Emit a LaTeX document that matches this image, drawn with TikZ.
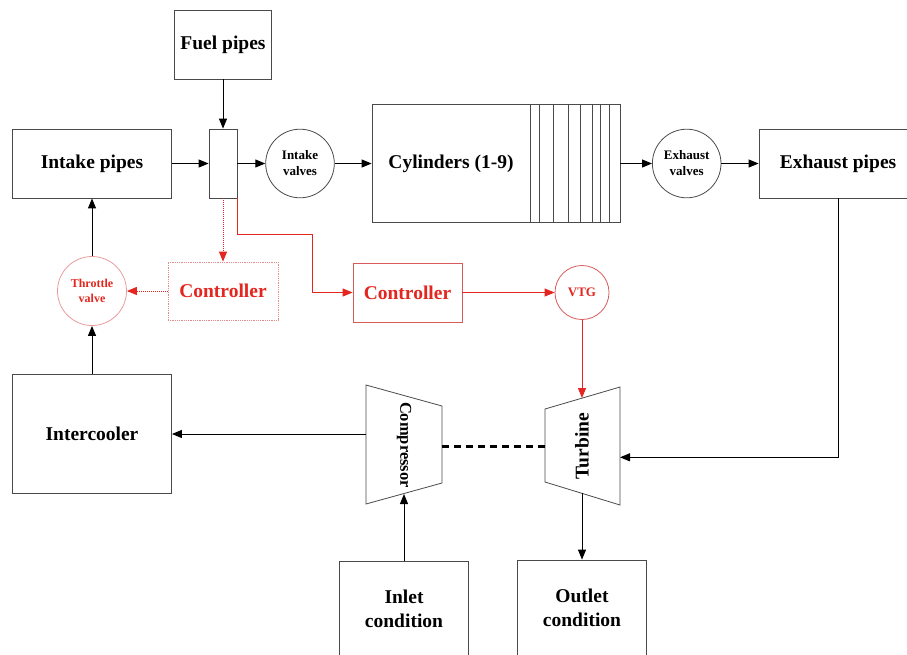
\documentclass[tikz,border=0pt]{standalone}
\usepackage{fontspec}
\setmainfont{Liberation Serif}
\usepackage{tikz}
\usetikzlibrary{arrows.meta,positioning,calc}
\usepackage{xcolor}
\definecolor{EngineRed}{HTML}{E3261F}
\definecolor{EngineRedEdge}{HTML}{D85A5A}
\definecolor{EngineGrey}{HTML}{4A4A4A}

\begin{document}
\begin{tikzpicture}[x=1pt,y=-1pt,
  blk/.style={draw=EngineGrey, line width=0.8pt, inner sep=0pt, align=center,
    font=\fontsize{19.5}{24}\selectfont\bfseries},
  valve/.style={draw=EngineGrey, line width=0.8pt, circle, inner sep=0pt, align=center,
    minimum size=68.6pt, font=\fontsize{13}{16}\selectfont\bfseries},
  flow/.style={draw=black, line width=1pt, -{Triangle[length=10pt,width=8pt]}},
  ctrl/.style={draw=EngineRed, line width=1pt, -{Triangle[length=10pt,width=8pt]}},
  ctrldot/.style={ctrl, densely dotted},
  turbo/.style={draw=EngineGrey, line width=0.8pt}]
  \useasboundingbox (0,0) rectangle (907,654);
  \node[blk, minimum width=97pt, minimum height=69pt] (fuel) at (223,44.5) {Fuel pipes};
  \node[blk, minimum width=159pt, minimum height=69pt] (intake) at (92,163.5) {Intake pipes};
  \node[blk, minimum width=28pt, minimum height=69pt] (mix) at (223,163.5) {};
  \node[valve] (inval) at (300,163.5) {Intake\\valves};
  \node[blk, minimum width=158pt, minimum height=118.5pt] (cyl) at (451,163.5) {Cylinders (1-9)};
  \node[blk, minimum width=90pt, minimum height=118.5pt] (cylstrip) at (575,163.5) {};
  \foreach \xs in {10,24,39,51,63,71,80}
    \draw[EngineGrey, line width=0.8pt] ($(cylstrip.north west)+(\xs,0)$) -- ($(cylstrip.south west)+(\xs,0)$);
  \node[valve] (exval) at (686.7,163.5) {Exhaust\\valves};
  \node[blk, minimum width=158pt, minimum height=69pt] (expipe) at (838,163.5) {Exhaust pipes};

  \node[blk, draw=EngineRedEdge!70, densely dotted, text=EngineRed, minimum width=110pt, minimum height=58pt] (ctrlA) at (223,291) {Controller};
  \node[blk, draw=EngineRedEdge, text=EngineRed, minimum width=109pt, minimum height=59pt] (ctrlB) at (407.5,292.5) {Controller};
  \node[valve, draw=EngineRedEdge!60, text=EngineRed, minimum size=69pt, font=\fontsize{12}{15}\selectfont\bfseries] (throttle) at (92,291) {Throttle\\valve};
  \node[valve, draw=EngineRedEdge, text=EngineRed, minimum size=54pt] (vtg) at (582,292.5) {VTG};
  \node[blk, minimum width=159pt, minimum height=119pt] (cooler) at (92,433.5) {Intercooler};

  \draw[turbo] (366,385) -- (442,406) -- (442,483) -- (366,504) -- cycle;
  \node[font=\fontsize{16.5}{20}\selectfont\bfseries, rotate=-90] (comp) at (404,445) {Compressor};
  \coordinate (compL) at (366,434);
  \coordinate (compR) at (442,446.7);
  \coordinate (compB) at (404,494);
  \draw[turbo] (545,409) -- (620,387) -- (620,505) -- (545,482) -- cycle;
  \node[font=\fontsize{19.5}{24}\selectfont\bfseries, rotate=90] (turb) at (582,446) {Turbine};
  \coordinate (turbL) at (545,446.7);
  \coordinate (turbR) at (620,457.3);
  \coordinate (turbT) at (582,398);
  \coordinate (turbB) at (582,493.3);

  \node[blk, minimum width=129pt, minimum height=96pt] (inlet) at (404,609) {Inlet\\condition};
  \node[blk, minimum width=129pt, minimum height=96pt] (outlet) at (582,608) {Outlet\\condition};

  \draw[flow] (fuel) -- (mix);
  \draw[flow] (intake) -- (mix);
  \draw[flow] (mix) -- (inval);
  \draw[flow] (inval) -- (cyl);
  \draw[flow] (cylstrip) -- (exval);
  \draw[flow] (exval) -- (expipe);
  \draw[flow] (throttle) -- (intake);
  \draw[flow] (cooler) -- (throttle);
  \draw[flow] (compL) -- (compL -| cooler.east);
  \draw[flow] (expipe) |- (turbR);
  \draw[flow] (inlet) -- (compB);
  \draw[flow] (turbB) -- (outlet);
  \draw[line width=3pt, dash pattern=on 7pt off 5pt] (compR) -- (turbL);
  \draw[ctrldot] (mix) -- (ctrlA);
  \draw[ctrldot] (ctrlA) -- (throttle);
  \draw[ctrl] (mix.south east) -- ++(0,36) -- ++(75,0) |- (ctrlB);
  \draw[ctrl] (ctrlB) -- (vtg);
  \draw[ctrl] (vtg) -- (turbT);
\end{tikzpicture}
\end{document}
